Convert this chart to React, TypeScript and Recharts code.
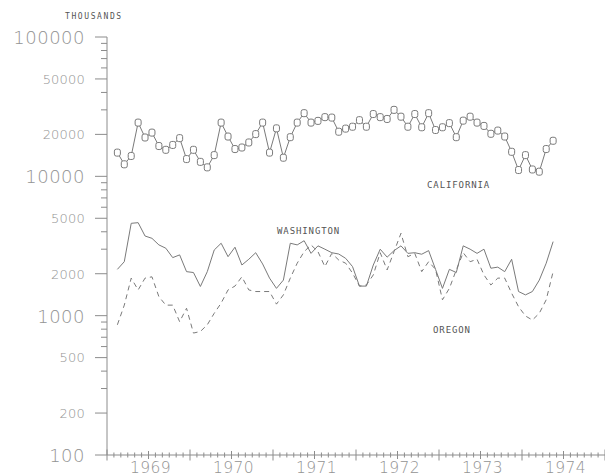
import React from 'react';
import { LineChart, Line, XAxis, YAxis } from 'recharts';

// monthly series, first observation Feb 1969 (month 1 counted from Jan 1969)
const firstMonth = 1;

const california = [
  14800, 12200, 14000, 24300, 19000, 20600, 16500, 15500, 16800, 18800,
  13300, 15500, 12700, 11600, 14200, 24300, 19300, 15700, 16100, 17500,
  20100, 24300, 14800, 22100, 13600, 19100, 24300, 28400, 24300, 25000,
  26600, 26400, 20900, 22000, 22700, 25300, 22700, 28000, 26600, 25800,
  30000, 26800, 22700, 28000, 22500, 28400, 21500, 22500, 24100, 19100,
  25100, 26800, 24300, 23000, 20200, 21300, 19300, 15000, 11100, 14200,
  11200, 10800, 15700, 18000,
];

const washington = [
  2150, 2440, 4600, 4650, 3730, 3590, 3220, 3050, 2610, 2730,
  2070, 2040, 1620, 2070, 2960, 3310, 2650, 3100, 2310, 2540,
  2830, 2350, 1860, 1570, 1800, 3310, 3220, 3450, 2800, 3170,
  3000, 2830, 2770, 2580, 2250, 1630, 1630, 2310, 3000, 2630,
  2930, 3170, 2800, 2830, 2760, 2930, 2150, 1570, 2150, 2040,
  3170, 3000, 2800, 3000, 2190, 2230, 2070, 2540, 1490, 1410,
  1490, 1800, 2380, 3400,
];

const oregon = [
  860, 1190, 1860, 1530, 1860, 1900, 1370, 1190, 1190, 905,
  1130, 750, 770, 860, 1040, 1230, 1530, 1630, 1900, 1530,
  1490, 1490, 1490, 1210, 1410, 1860, 2380, 2880, 3220, 2880,
  2250, 2800, 2510, 2380, 2020, 1630, 1660, 1960, 2830, 2130,
  2880, 3900, 2650, 2800, 2070, 2440, 2150, 1300, 1570, 2130,
  2830, 2440, 2540, 1960, 1660, 1860, 1860, 1450, 1160, 995,
  930, 1040, 1300, 2070,
];

const years = ['1969', '1970', '1971', '1972', '1973', '1974'];
const yLabels = [100, 200, 500, 1000, 2000, 5000, 10000, 20000, 50000, 100000];
const bigLabels = [100, 1000, 10000, 100000];

const rows = california.map((c, i) => ({
  month: firstMonth + i + 0.5,
  california: c,
  washington: washington[i],
  oregon: oregon[i],
}));

const monthTicks = Array.from({ length: years.length * 12 + 1 }, (_, i) => i);
const yTicks: number[] = [];
[100, 1000, 10000].forEach((d) => {
  for (let k = 1; k < 10; k++) yTicks.push(d * k);
});
yTicks.push(100000);

const axisColor = '#8c8c8c';
const lineColor = '#7a7a7a';
const labelColor = '#939393';
const labelFont = '"DejaVu Sans", sans-serif';
const plotFont = '"DejaVu Sans Mono", monospace';

const XTick = (props: any) => {
  const { x, y, payload } = props;
  const m = payload.value;
  const len = m % 12 === 0 ? 5.5 : m % 6 === 0 ? 4 : 2.5;
  return (
    <g>
      <line x1={x} x2={x} y1={y - len} y2={y + len} stroke={axisColor} strokeWidth={1} />
      {m % 12 === 6 && (
        <text
          x={x + 2}
          y={y + 18}
          textAnchor="middle"
          fontFamily={labelFont}
          fontWeight={200}
          fontSize={15.5}
          letterSpacing={0.4}
          fill={labelColor}
        >
          {years[(m - 6) / 12]}
        </text>
      )}
    </g>
  );
};

const YTick = (props: any) => {
  const { x, y, payload } = props;
  const v = payload.value;
  const labeled = yLabels.includes(v);
  const big = bigLabels.includes(v);
  return (
    <g>
      <line x1={x - (labeled ? 12 : 6)} x2={x} y1={y} y2={y} stroke={axisColor} strokeWidth={1} />
      {labeled && (
        <text
          x={x - 22}
          y={y + (big ? 7 : 4.8)}
          textAnchor="end"
          fontFamily={labelFont}
          fontWeight={200}
          fontSize={big ? 18 : 13}
          letterSpacing={big ? 0.5 : 0.2}
          fill={labelColor}
        >
          {v}
        </text>
      )}
    </g>
  );
};

const BoxDot = (props: any) => {
  const { cx, cy } = props;
  if (cx == null || cy == null) return null;
  return (
    <rect x={cx - 3} y={cy - 3.5} width={6} height={7} rx={2} fill="#fff" stroke={lineColor} strokeWidth={1} />
  );
};

const notes = [
  { text: 'THOUSANDS', x: 65, y: 18.5, size: 8, spacing: 1.6 },
  { text: 'CALIFORNIA', x: 427, y: 188, size: 9, spacing: 0.9 },
  { text: 'WASHINGTON', x: 277, y: 234, size: 9, spacing: 0.9 },
  { text: 'OREGON', x: 433, y: 333, size: 9, spacing: 0.9 },
];

export default function App() {
  return (
    <div style={{ position: 'absolute', left: 0, top: 0, width: 605, height: 476, background: '#fff' }}>
      <LineChart width={605} height={476} data={rows} margin={{ top: 37, right: 0, bottom: 0, left: 0 }}>
        <XAxis
          dataKey="month"
          type="number"
          domain={[0, years.length * 12]}
          ticks={monthTicks}
          interval={0}
          tickLine={false}
          tickSize={0}
          tickMargin={0}
          tick={XTick}
          height={21}
          stroke={axisColor}
          allowDataOverflow
        />
        <YAxis
          scale="log"
          type="number"
          domain={[100, 100000]}
          ticks={yTicks}
          interval={0}
          tickLine={false}
          tickSize={0}
          tickMargin={0}
          tick={YTick}
          width={107}
          stroke={axisColor}
          allowDataOverflow
        />
        <Line
          type="linear"
          dataKey="california"
          stroke={lineColor}
          strokeWidth={1}
          dot={BoxDot}
          activeDot={false}
          isAnimationActive={false}
        />
        <Line
          type="linear"
          dataKey="washington"
          stroke={lineColor}
          strokeWidth={1}
          dot={false}
          activeDot={false}
          isAnimationActive={false}
        />
        <Line
          type="linear"
          dataKey="oregon"
          stroke={lineColor}
          strokeWidth={1}
          strokeDasharray="5 4"
          dot={false}
          activeDot={false}
          isAnimationActive={false}
        />
      </LineChart>
      <svg width={605} height={476} style={{ position: 'absolute', left: 0, top: 0, pointerEvents: 'none' }}>
        {notes.map((n) => (
          <text
            key={n.text}
            x={n.x}
            y={n.y}
            fontFamily={plotFont}
            fontSize={n.size}
            letterSpacing={n.spacing}
            fill="#555"
          >
            {n.text}
          </text>
        ))}
      </svg>
    </div>
  );
}
